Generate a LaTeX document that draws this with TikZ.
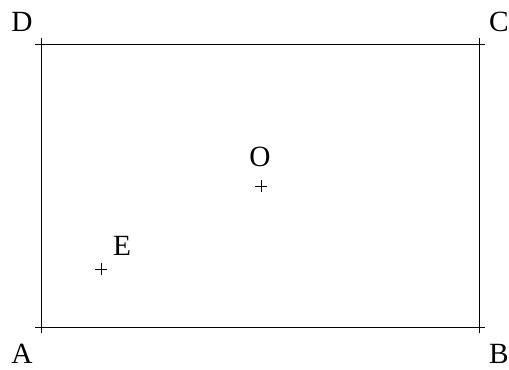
\documentclass[tikz,border=0pt]{standalone}
\usepackage{fontspec}
\setmainfont{Liberation Serif}
\begin{document}
\begin{tikzpicture}[x=0.75pt,y=-0.75pt,
  lbl/.style={font=\fontsize{22}{26}\selectfont, inner sep=0pt, anchor=center},
  crossmark/.style={line width=0.75pt}]
\useasboundingbox (0,0) rectangle (509,369);
\coordinate (A) at (41,327);
\coordinate (B) at (479,327);
\coordinate (C) at (479,44);
\coordinate (D) at (41,44);
\coordinate (O) at (261,186);
\coordinate (E) at (101,269);
\draw[line width=0.75pt] (A) -- (B) -- (C) -- (D) -- cycle;
\foreach \p in {A,B,C,D,O,E}{
  \draw[crossmark] ([xshift=-4.5pt]\p) -- ([xshift=4.5pt]\p);
  \draw[crossmark] ([yshift=-4.5pt]\p) -- ([yshift=4.5pt]\p);
}
\node[lbl] (lA) at (22,354) {A};
\node[lbl] (lB) at (499,354) {B};
\node[lbl] (lC) at (499,22) {C};
\node[lbl] (lD) at (22,22) {D};
\node[lbl] (lO) at (260,157) {O};
\node[lbl] (lE) at (122,246) {E};
\end{tikzpicture}
\end{document}
